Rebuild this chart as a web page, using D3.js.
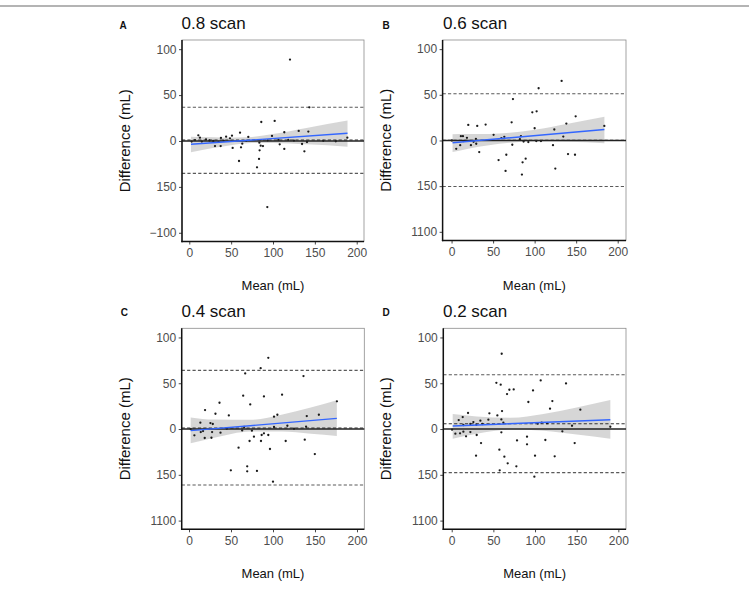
<!DOCTYPE html>
<html><head><meta charset="utf-8">
<script src="https://cdn.jsdelivr.net/npm/d3@7"></script>
<style>body{margin:0;background:#fff}svg{display:block;font-family:"Liberation Sans",Arial,Helvetica,sans-serif}</style>
</head><body>
<svg id="c" width="749" height="589"></svg>
<script>
// ---------- data ----------
const panelLetters = ["A","B","C","D"];
const panelTitles = ["0.8 scan","0.6 scan","0.4 scan","0.2 scan"];
const xTickValues = [0,50,100,150,200];
const xTickLabels = ["0","50","100","150","200"];
const yTickValues = [100,50,0,-50,-100];
const yTickLabelsA = ["100","50","0","150","\u2212100"];
const yTickLabelsB = ["100","50","0","150","1100"];
const yTickLabelsC = ["100","50","0","150","1100"];
const yTickLabelsD = ["100","50","0","150","1100"];
const xTitle = "Mean (mL)";
const yTitle = "Difference (mL)";

const meanA = [120.3,143.4,86,102,60.6,113.5,130.7,142.2,98.8,70.5,51,44,48.6,37.8,10.8,12.7,20,6.8,15,28.7,30.7,37.5,51.8,61.8,63.3,83.7,85.3,88,84,108,113.5,118.3,134.7,137.5,140.6,188.8,59.4,83.3,80.9,93.2,106.4,93.6,2.8,24,35,41,68,125,160,175];
const diffA = [88.7,36.7,20.7,21.8,9.1,9.5,10.9,10.2,5.5,4.4,5.8,4.7,2.9,3.3,6.2,3.6,1.8,1,-0.7,0,-5.5,-5.5,-7.6,-6.9,-2.9,-1.8,-5.1,-5.5,-10.2,-3.6,-8.7,1.1,-3.3,-11.3,-1.1,3.6,-21.8,-19.6,-28.7,-72,1.1,0.7,-0.7,0.5,-1,0.3,0.2,0.4,0.2,-0.3];

const meanB = [132.5,104.8,73.9,97.2,102.4,149.4,72.3,20.1,30.9,41,100,138.2,123.7,183.9,134.5,50.6,63.5,60,83.5,11.2,13.7,18.5,29.3,14.5,26.5,82.3,10.4,23.3,29.7,5.6,33.3,73.1,86.7,92.4,102,107.6,122.1,140.2,148.6,56.6,65.9,89.2,85.5,65,84.7,124.9,0.4];
const diffB = [65.2,57.2,45.3,30.8,31.9,26.4,19.9,17,15.9,17.4,13.4,18.5,12,15.9,4.3,6.2,4,2.5,4.7,4.7,4.7,2.9,1.8,-0.7,-1.4,1.4,-5.1,-5.1,-3.6,-9.1,-12.7,-4.7,-1.1,-1.8,-0.7,-0.7,-5.1,-14.9,-15.6,-21.4,-15.6,-19.9,-23.9,-33.3,-37.3,-30.8,0];

const meanC = [94.4,85.3,66.9,136.3,64.5,89.2,110.8,72.9,36.3,19.1,31.5,47.4,105.2,101.2,140.2,154.6,176.1,13.5,25.5,28.3,65.7,117.1,139.4,101.2,6.4,14,16.7,27.5,37.5,18.7,26.7,63.3,74.9,77.3,72.1,86.5,89.2,94.4,85.7,115.1,137.8,59,96.4,149.8,49.8,69.3,69.3,80.9,100,2,45,125];
const diffC = [77.8,66.5,60.7,57.8,36.4,35.6,37.5,26.9,28.7,20.7,16.7,14.9,15.6,13.5,14.2,15.6,30.2,6.9,6.5,5.5,2.2,3.6,2.5,2.2,-6.9,-3.3,-2.2,-3.3,-4,-9.8,-9.5,-1.5,-1.8,-8.4,-13.1,-6.5,-4.7,-6.5,-13.1,-13.1,-11.6,-20.4,-21.8,-27.3,-45.1,-40.7,-46.2,-45.8,-57.5,0,0.4,0.3];

const meanD = [60,53.6,58.8,106.8,137.2,69.2,74.4,97.6,66.4,120.8,92,118,154.4,60.4,19.6,45.2,54.8,13.2,8.4,34.4,44,59.6,62,26,22.4,14,29.6,36.8,108,103.2,114.4,144.4,190.4,0.4,4.4,10,14,17.2,22.4,30,35.2,59.6,132.8,78.4,90.4,90.4,112.4,147.6,57.2,29.2,63.2,100,123.6,67.2,77.6,57.6,99.2];
const diffD = [82.2,50.5,48.4,53.1,49.8,42.9,43.3,42.2,38.2,30.5,29.5,22.2,21.1,19.6,17.5,17.1,14.9,13.1,9.8,9.1,10.2,10.5,6.9,7.6,5.5,4.4,4.7,5.5,6.9,5.8,6.2,3.6,2.5,-0.7,-5.1,-4.7,-2.9,-8,-3.3,-6.5,-15.3,-3.6,-2.5,-12.4,-8.4,-16.7,-12,-15.3,-22.5,-29.1,-30.2,-29.1,-29.8,-37.5,-40.7,-45.1,-52];

// bias (mean difference) and limits of agreement
const biasLines = [1.1, 0.3, 1.1, 5.8];
const upperLoA = [36.7, 51.1, 64, 59.3];
const lowerLoA = [-35.3, -50.4, -61.1, -47.6];

// regression line end points
const regXA = [2, 189],   regYA = [-3.6, 8.4];
const regXB = [1.2, 184], regYB = [-2.5, 12];
const regXC = [2, 176],   regYC = [-1.8, 11.6];
const regXD = [1.2, 190.4], regYD = [3.3, 10.2];

// confidence band readings
const ribXA = [2,20,40,70,100,140,165,189];
const ribLoA = [-12.4,-9.1,-6.0,-2.5,-2.1,-3.5,-4.6,-6.2];
const ribHiA = [4.7,4.2,3.6,4.1,7.5,14.1,18.4,22.2];
const ribXB = [1.2,20,45,70,100,140,184];
const ribLoB = [-12.7,-9.0,-5.2,-2.5,-1.2,-1.4,-2.9];
const ribHiB = [6.9,7.0,7.2,8.5,11.8,18.4,26.1];
const ribXC = [2,30,73,110,145,176];
const ribLoC = [-15.6,-9.6,-2.7,-2.7,-5.1,-7.6];
const ribHiC = [12.7,10.3,10.1,15.7,23.5,31.3];
const ribXD = [1.2,30,71,110,150,190.4];
const ribLoD = [-10.5,-5.1,-0.55,-1.9,-6.0,-10.5];
const ribHiD = [16.4,13.8,12.25,16.4,23.5,31.6];

// ---------- layout ----------
const svg = d3.select("#c");
svg.append("line").attr("x1",0).attr("x2",749).attr("y1",6).attr("y2",6)
  .attr("stroke","#6a6a6a").attr("stroke-width",1.2);

const panels = [
  {l:182, r:364, t:40, b:241.5, xd:[-8.7,208.7], mx:meanA, dy:diffA, yl:yTickLabelsA, rx:regXA, ry:regYA, bx:ribXA, blo:ribLoA, bhi:ribHiA, letterX:119.5, titleX:181.5, titleY:29.3, ytX:125, xtY:290},
  {l:442.6, r:626, t:40, b:240.5, xd:[-10.8,210], mx:meanB, dy:diffB, yl:yTickLabelsB, rx:regXB, ry:regYB, bx:ribXB, blo:ribLoB, bhi:ribHiB, letterX:382.5, titleX:443, titleY:29.3, ytX:386, xtY:290},
  {l:181.7, r:364.3, t:328.3, b:529.3, xd:[-8.7,208.7], mx:meanC, dy:diffC, yl:yTickLabelsC, rx:regXC, ry:regYC, bx:ribXC, blo:ribLoC, bhi:ribHiC, letterX:120.8, titleX:181.5, titleY:316.7, ytX:125, xtY:577.5},
  {l:443.3, r:626, t:328.3, b:529.3, xd:[-10.1,209.2], mx:meanD, dy:diffD, yl:yTickLabelsD, rx:regXD, ry:regYD, bx:ribXD, blo:ribLoD, bhi:ribHiD, letterX:382.5, titleX:443, titleY:316.7, ytX:386, xtY:577.5}
];

panels.forEach((p,i)=>{
  const x = d3.scaleLinear().domain(p.xd).range([p.l,p.r]);
  const y = d3.scaleLinear().domain([-109.5,110]).range([p.b,p.t]);
  const g = svg.append("g");

  g.append("rect").attr("x",p.l).attr("y",p.t).attr("width",p.r-p.l).attr("height",p.b-p.t)
    .attr("fill","none").attr("stroke","#8c8c8c").attr("stroke-width",0.8);

  const area = d3.area().x(d=>x(d[0])).y0(d=>y(d[1])).y1(d=>y(d[2])).curve(d3.curveMonotoneX);
  g.append("path").datum(d3.zip(p.bx,p.blo,p.bhi)).attr("d",area)
    .attr("fill","#999999").attr("fill-opacity",0.4);

  [upperLoA[i], lowerLoA[i], biasLines[i]].forEach((v,k)=>{
    g.append("line").attr("x1",p.l).attr("x2",p.r).attr("y1",y(v)).attr("y2",y(v))
      .attr("stroke", k===2 ? "#333" : "#5a5a5a").attr("stroke-width",1.1)
      .attr("stroke-dasharray","3.2,2.2");
  });

  g.selectAll("circle.pt").data(d3.zip(p.mx,p.dy)).join("circle").attr("class","pt")
    .attr("cx",d=>x(d[0])).attr("cy",d=>y(d[1])).attr("r",1.15).attr("fill","#1a1a1a");

  g.append("line").attr("x1",p.l).attr("x2",p.r).attr("y1",y(0)).attr("y2",y(0))
    .attr("stroke","#222").attr("stroke-width",1.4);

  g.append("path").datum(d3.zip(p.rx,p.ry))
    .attr("d",d3.line().x(d=>x(d[0])).y(d=>y(d[1])))
    .attr("stroke","#3366FF").attr("stroke-width",1.4).attr("fill","none");

  const ya = g.append("g").attr("transform",`translate(${p.l},0)`)
    .call(d3.axisLeft(y).tickValues(yTickValues).tickFormat((d,k)=>p.yl[k]).tickSize(3).tickSizeOuter(0).tickPadding(2.5));
  const xa = g.append("g").attr("transform",`translate(0,${p.b})`)
    .call(d3.axisBottom(x).tickValues(xTickValues).tickFormat((d,k)=>xTickLabels[k]).tickSize(3).tickSizeOuter(0).tickPadding(4));
  [ya,xa].forEach(a=>{
    a.select(".domain").remove();
    a.selectAll(".tick line").attr("stroke","#333").attr("stroke-width",0.9);
    a.selectAll(".tick text").attr("fill","#4d4d4d").style("font-size","12px")
      .style("font-family",'"Liberation Sans",Arial,sans-serif');
  });
  g.append("line").attr("x1",p.l).attr("x2",p.l).attr("y1",p.t).attr("y2",p.b+0.7)
    .attr("stroke","#111").attr("stroke-width",1.5);
  g.append("line").attr("x1",p.l-0.7).attr("x2",p.r).attr("y1",p.b).attr("y2",p.b)
    .attr("stroke","#111").attr("stroke-width",1.5);

  g.append("text").attr("x",p.letterX).attr("y",p.titleY-0.6).text(panelLetters[i])
    .style("font-size","10px").style("font-weight","bold").attr("fill","#111");
  g.append("text").attr("x",p.titleX).attr("y",p.titleY).text(panelTitles[i])
    .style("font-size","17px").attr("fill","#111");

  g.append("text").attr("transform",`translate(${p.ytX+5},${(p.t+p.b)/2}) rotate(-90)`)
    .attr("text-anchor","middle").text(yTitle).style("font-size","15px").attr("fill","#111");
  g.append("text").attr("x",(p.l+p.r)/2).attr("y",p.xtY).attr("text-anchor","middle")
    .text(xTitle).style("font-size","13px").attr("fill","#111");
});
</script>
</body></html>
